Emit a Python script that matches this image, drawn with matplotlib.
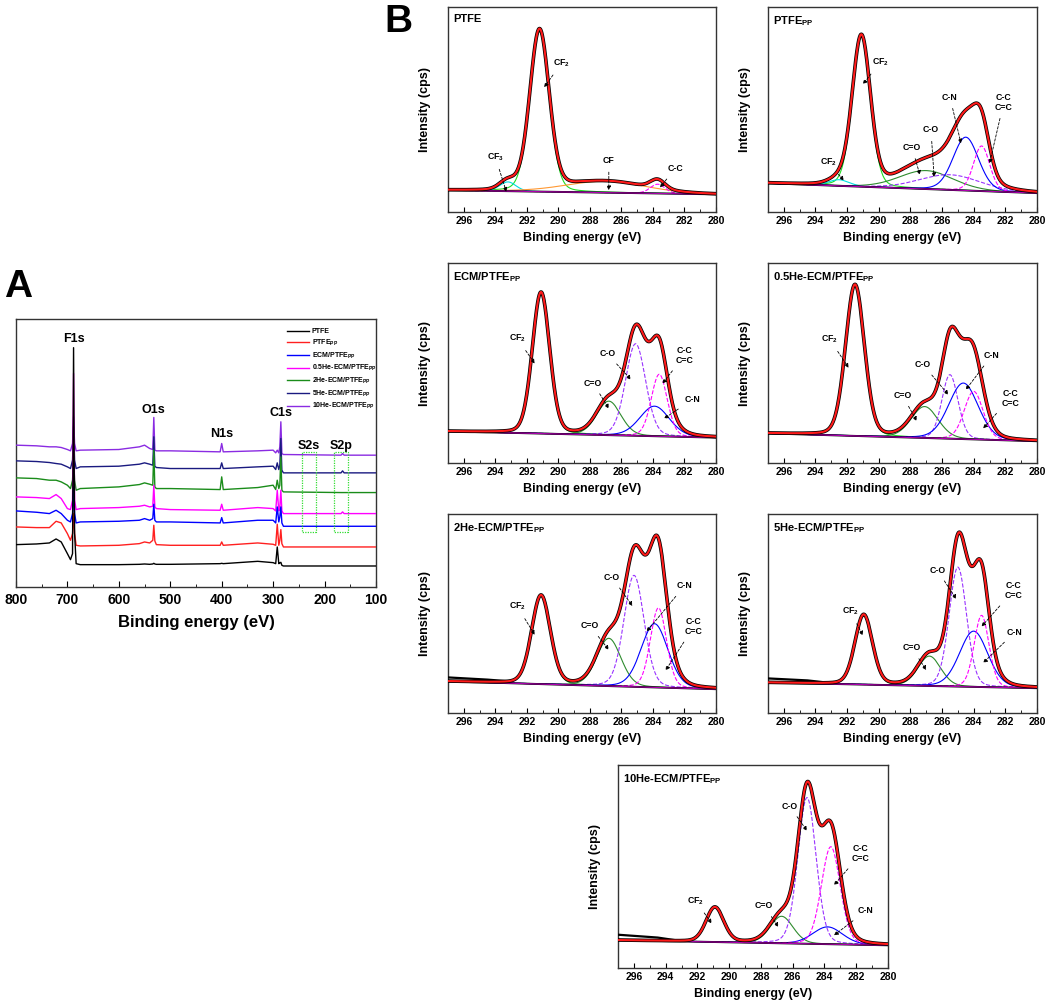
"""
XPS survey (A) and C1s high resolution fits (B) for PTFE / ECM samples
"""
import matplotlib
matplotlib.use('Agg')
import matplotlib.pyplot as plt
from matplotlib.patches import Rectangle
from matplotlib.ticker import MultipleLocator
import numpy as np

plt.rcParams['font.family'] = ['Liberation Sans', 'DejaVu Sans']
plt.rcParams['font.weight'] = 'bold'
plt.rcParams['axes.labelweight'] = 'bold'
plt.rcParams['mathtext.fontset'] = 'custom'
plt.rcParams['mathtext.rm'] = 'Liberation Sans:bold'
plt.rcParams['mathtext.it'] = 'Liberation Sans:bold'
plt.rcParams['mathtext.bf'] = 'Liberation Sans:bold'

# ---------------- panel A : survey spectra (a.u.) ----------------
survey_ev = [800, 760, 735, 722, 712, 700, 694, 690, 688, 686, 683, 675, 600, 560, 550,
             540, 534, 532, 530, 527, 500, 403, 400, 397, 330, 300, 295, 292, 289, 287,
             285, 283, 280, 168, 165, 162, 100]
survey_ptfe = [127, 129, 132, 144, 135, 100, 82, 100, 717, 160, 70, 67, 67, 68, 69,
               68, 69, 71, 69, 68, 68, 70, 71, 70, 77, 73, 70, 120, 70, 72,
               74, 65, 63, 63, 63, 63, 63]
survey_pp = [180, 178, 178, 197, 192, 160, 140, 160, 220, 160, 125, 123, 125, 130, 135,
             132, 140, 185, 138, 127, 125, 125, 135, 125, 132, 128, 125, 188, 125, 140,
             172, 130, 120, 120, 120, 120, 120]
survey_ecm = [228, 224, 220, 230, 220, 200, 195, 220, 300, 220, 192, 195, 197, 200, 205,
              200, 205, 248, 200, 195, 195, 192, 208, 192, 200, 200, 192, 240, 195, 210,
              240, 192, 182, 182, 182, 182, 182]
survey_05he = [270, 268, 265, 277, 265, 235, 232, 260, 640, 260, 232, 235, 238, 242, 245,
               240, 242, 305, 240, 235, 232, 230, 248, 230, 238, 235, 228, 290, 228, 240,
               290, 228, 220, 220, 225, 220, 220]
survey_2he = [327, 325, 320, 320, 315, 305, 295, 320, 390, 320, 290, 295, 300, 307, 312,
              308, 305, 410, 300, 295, 295, 292, 330, 292, 298, 305, 292, 320, 295, 305,
              390, 290, 285, 283, 283, 283, 283]
survey_5he = [378, 376, 373, 370, 368, 360, 355, 380, 480, 380, 355, 360, 362, 368, 372,
              368, 365, 450, 362, 358, 355, 355, 372, 355, 360, 362, 352, 372, 352, 365,
              445, 350, 342, 342, 348, 342, 342]
survey_10he = [425, 423, 420, 420, 418, 412, 408, 430, 510, 430, 408, 410, 412, 420, 425,
               415, 412, 508, 410, 408, 408, 405, 430, 405, 408, 410, 402, 410, 402, 420,
               495, 400, 397, 395, 400, 395, 395]
survey_labels = ['PTFE', r'PTFE$_{PP}$', r'ECM/PTFE$_{PP}$', r'0.5He-ECM/PTFE$_{PP}$',
                 r'2He-ECM/PTFE$_{PP}$', r'5He-ECM/PTFE$_{PP}$', r'10He-ECM/PTFE$_{PP}$']
survey_peaks = ['F1s', 'O1s', 'N1s', 'C1s', 'S2s', 'S2p']
survey_peak_ev = [688, 532, 400, 285, 230, 168]
survey_peak_y = [742, 530, 457, 522, 423, 423]
s_boxes_ev = [(244.4, 216.7), (181.7, 154.0)]
s_boxes_y = (165, 405)

# ---------------- panel B : C1s fits (center eV, height, FWHM) ----------------
ptfe_names = ['CF2', 'CF3', 'CF', 'C-C']
ptfe_center = [291.2, 293.2, 287.0, 283.7]
ptfe_height = [78, 4.5, 5.5, 4.5]
ptfe_fwhm = [1.45, 1.2, 6.0, 1.1]
ptfe_bg = [10.6, 8.6]

pp_names = ['CF2', 'CF3', 'C=O', 'C-O', 'C-N', 'C-C']
pp_center = [291.1, 292.5, 287.0, 285.5, 284.5, 283.5]
pp_height = [73, 3.0, 9.0, 7.4, 26, 22]
pp_fwhm = [1.35, 1.5, 4.0, 4.5, 1.9, 1.2]
pp_bg = [14.0, 9.2]

fit_names = ['CF2', 'C=O', 'C-O', 'C-N', 'C-C']
ecm_center = [291.1, 286.8, 285.1, 283.9, 283.6]
ecm_height = [70.5, 17, 46, 15, 31]
ecm_fwhm = [1.3, 1.8, 1.5, 2.2, 1.2]
ecm_bg = [15.8, 12.7]

he05_center = [291.5, 287.1, 285.5, 284.65, 284.0]
he05_height = [75.5, 15.7, 32, 28, 24]
he05_fwhm = [1.4, 2.0, 1.2, 2.2, 1.4]
he05_bg = [14.8, 10.9]

he2_center = [291.1, 286.8, 285.2, 283.9, 283.65]
he2_height = [44.4, 24, 56, 32, 40]
he2_fwhm = [1.4, 1.8, 1.5, 2.0, 1.2]
he2_bg = [15.9, 12.0]
he2_raw_left = [17.9, 16.8]

he5_center = [290.95, 286.8, 285.0, 284.0, 283.5]
he5_height = [35, 15, 60, 28, 36]
he5_fwhm = [1.3, 1.7, 1.3, 2.1, 1.1]
he5_bg = [15.3, 12.5]
he5_raw_left = [17.4, 16.4]

he10_center = [290.9, 286.7, 285.1, 283.8, 283.6]
he10_height = [17, 13.3, 72, 8.5, 48]
he10_fwhm = [1.3, 1.7, 1.35, 2.2, 1.4]
he10_bg = [13.7, 11.2]
he10_raw_left = [16.4, 15.0]

# line styles of fitted components
comp_style = {
    'CF2': dict(color='#22dd22', ls='-'),
    'CF3': dict(color='#00dede', ls='-'),
    'CF': dict(color='#ff9933', ls='-'),
    'C-C': dict(color='#ff00ff', ls='--'),
    'C=O': dict(color='#2e8b2e', ls='-'),
    'C-O': dict(color='#9933ff', ls='--'),
    'C-N': dict(color='#0000ff', ls='-'),
}

CC = 'C-C\nC=C'
CF2 = r'CF$_2$'
CF3 = r'CF$_3$'
# annotation layout: (text, text position, arrow tip)
notes_ptfe = [(CF2, (289.8, 72.6), (290.9, 60.8)), (CF3, (294.0, 26.9), (293.3, 9.8)),
              ('CF', (286.8, 25.0), (286.8, 10.6)), ('C-C', (282.6, 21.2), (283.55, 11.9))]
notes_pp = [(CF2, (289.9, 73.0), (291.0, 62.3)), (CF2, (293.2, 24.0), (292.2, 15.3)),
            ('C=O', (287.9, 31.5), (287.4, 18.1)), ('C-O', (286.7, 40.0), (286.5, 17.0)),
            ('C-N', (285.5, 56.0), (284.8, 33.4)), (CC, (282.1, 53.5), (283.0, 23.6))]
notes_ecm = [(CF2, (292.6, 62.2), (291.5, 49.7)), ('C=O', (287.8, 40.0), (286.8, 27.2)),
             ('C-O', (286.9, 54.7), (285.4, 41.7)), (CC, (282.0, 53.8), (283.4, 39.7)),
             ('C-N', (281.5, 31.7), (283.3, 22.2))]
notes_05 = [(CF2, (293.1, 61.8), (291.9, 47.6)), ('C=O', (288.5, 33.8), (287.6, 21.0)),
            ('C-O', (287.2, 49.2), (285.6, 34.1)), ('C-N', (282.85, 53.8), (284.5, 36.6)),
            (CC, (281.7, 32.4), (283.4, 17.3))]
notes_2 = [(CF2, (292.6, 53.5), (291.5, 39.3)), ('C=O', (288.0, 43.8), (286.8, 31.8)),
           ('C-O', (286.6, 68.2), (285.3, 53.8)), ('C-N', (282.0, 63.9), (284.4, 41.0)),
           (CC, (281.4, 43.5), (283.2, 21.4))]
notes_5 = [(CF2, (291.8, 51.0), (291.0, 39.0)), ('C=O', (287.9, 32.7), (287.0, 21.6)),
           ('C-O', (286.3, 71.8), (285.1, 57.3)), (CC, (281.5, 61.5), (283.5, 43.5)),
           ('C-N', (281.4, 40.7), (283.4, 25.2))]
notes_10 = [(CF2, (292.1, 33.0), (291.1, 21.9)), ('C=O', (287.8, 30.6), (286.9, 20.2)),
            ('C-O', (286.2, 79.8), (285.1, 67.6)), (CC, (281.7, 56.4), (283.4, 40.8)),
            ('C-N', (281.4, 28.1), (283.4, 16.1))]


def gl_peak(x, center, height, fwhm, mix=0.15):
    """Gaussian-Lorentzian line shape used for the XPS component fits"""
    d = (x - center) / fwhm
    return height * ((1 - mix) * np.exp(-4 * np.log(2) * d ** 2) + mix / (1 + 4 * d ** 2))


def draw_fit(ax, title, names, centers, heights, fwhms, bg, notes, raw_left=None):
    x = np.linspace(280, 297, 700)
    base = np.interp(x, [280, 297], [bg[1], bg[0]])
    total = base.copy()
    for name, c, h, w in zip(names, centers, heights, fwhms):
        comp = gl_peak(x, c, h, w)
        total += comp
        st = comp_style[name]
        ax.plot(x, base + comp, color=st['color'], ls=st['ls'], lw=0.8, zorder=2)
    ax.plot(x, base, color='black', lw=1.4, zorder=3)
    ax.plot(x, base, color='#b000b0', lw=0.8, zorder=3)
    ax.plot(x, total, color='black', lw=2.6, zorder=4)
    if raw_left is not None:
        x_end = 293.2
        y_end = np.interp(x_end, x, total)
        ax.plot([297, 294.5, x_end], [raw_left[0], raw_left[1], y_end],
                color='black', lw=1.6, zorder=4)
    ax.plot(x, total, color='#ff1a1a', lw=1.5, zorder=5)

    for text, txy, tip in notes:
        ax.annotate(text, xy=tip, xytext=txy, ha='center', va='center',
                    fontsize=6.3, fontweight='bold', linespacing=1.1, zorder=6,
                    arrowprops=dict(arrowstyle='-|>', ls=(0, (3, 2)), lw=0.6,
                                    color='black', mutation_scale=6,
                                    shrinkA=3, shrinkB=0))

    ax.set_xlim(297, 280)
    ax.set_ylim(0, 100)
    ax.xaxis.set_major_locator(MultipleLocator(2))
    ax.xaxis.set_minor_locator(MultipleLocator(1))
    ax.tick_params(axis='x', which='both', direction='in', labelsize=7.5, pad=3)
    ax.tick_params(axis='x', which='major', length=3.5)
    ax.tick_params(axis='x', which='minor', length=2)
    ax.set_yticks([])
    ax.set_xlabel('Binding energy (eV)', fontsize=9, labelpad=4)
    ax.set_ylabel('Intensity (cps)', fontsize=9, labelpad=12)
    for sp in ax.spines.values():
        sp.set_color('#333333')
        sp.set_linewidth(1.0)
    ax.text(0.02, 0.965, title, transform=ax.transAxes, va='top', ha='left',
            fontsize=8, fontweight='bold')


fig = plt.figure(figsize=(10.5, 10.05), dpi=100)

# ---------------- panel A ----------------
axA = fig.add_axes([0.0152, 0.4159, 0.3429, 0.2667])
survey_colors = ['black', '#ff2020', '#0000ff', '#ff00ff', '#1a8c1a', '#1a1a80', '#8a2be2']
survey_series = [survey_ptfe, survey_pp, survey_ecm, survey_05he, survey_2he,
                 survey_5he, survey_10he]
for i, (ys, col, lab) in enumerate(zip(survey_series, survey_colors, survey_labels)):
    axA.plot(survey_ev, ys, color=col, lw=1.0, label=lab, zorder=10 - i)
for name, ev, y in zip(survey_peaks, survey_peak_ev, survey_peak_y):
    axA.text(ev, y, name, ha='center', va='center', fontsize=9, fontweight='bold')
for hi, lo in s_boxes_ev:
    axA.add_patch(Rectangle((lo, s_boxes_y[0]), hi - lo, s_boxes_y[1] - s_boxes_y[0],
                            fill=False, ec='#33dd33', ls=(0, (1, 1)), lw=0.9, zorder=12))
axA.set_xlim(800, 100)
axA.set_ylim(0, 803)
axA.xaxis.set_major_locator(MultipleLocator(100))
axA.xaxis.set_minor_locator(MultipleLocator(50))
axA.tick_params(axis='x', which='both', direction='in', labelsize=10, pad=4)
axA.tick_params(axis='x', which='major', length=4)
axA.tick_params(axis='x', which='minor', length=2.5)
axA.set_yticks([])
axA.set_xlabel('Binding energy (eV)', fontsize=12, labelpad=6)
for sp in axA.spines.values():
    sp.set_color('#333333')
    sp.set_linewidth(1.0)
axA.legend(loc='upper left', bbox_to_anchor=(0.745, 0.975), frameon=False,
           fontsize=5, handlelength=3.2, handletextpad=0.4, labelspacing=0.35,
           borderaxespad=0)
fig.text(0.004, 1 - 305 / 1005, 'A', fontsize=28, fontweight='bold', va='bottom')

# ---------------- panel B ----------------
fig.text(0.366, 1 - 40 / 1005, 'B', fontsize=28, fontweight='bold', va='bottom')
ax1 = fig.add_axes([0.4267, 0.7891, 0.2552, 0.2040])
draw_fit(ax1, 'PTFE', ptfe_names, ptfe_center, ptfe_height, ptfe_fwhm, ptfe_bg, notes_ptfe)
ax2 = fig.add_axes([0.7314, 0.7891, 0.2562, 0.2040])
draw_fit(ax2, r'PTFE$_{PP}$', pp_names, pp_center, pp_height, pp_fwhm, pp_bg, notes_pp)
ax3 = fig.add_axes([0.4267, 0.5393, 0.2552, 0.1990])
draw_fit(ax3, r'ECM/PTFE$_{PP}$', fit_names, ecm_center, ecm_height, ecm_fwhm, ecm_bg,
         notes_ecm)
ax4 = fig.add_axes([0.7314, 0.5393, 0.2562, 0.1990])
draw_fit(ax4, r'0.5He-ECM/PTFE$_{PP}$', fit_names, he05_center, he05_height, he05_fwhm,
         he05_bg, notes_05)
ax5 = fig.add_axes([0.4267, 0.2905, 0.2552, 0.1980])
draw_fit(ax5, r'2He-ECM/PTFE$_{PP}$', fit_names, he2_center, he2_height, he2_fwhm,
         he2_bg, notes_2, he2_raw_left)
ax6 = fig.add_axes([0.7314, 0.2905, 0.2562, 0.1980])
draw_fit(ax6, r'5He-ECM/PTFE$_{PP}$', fit_names, he5_center, he5_height, he5_fwhm,
         he5_bg, notes_5, he5_raw_left)
ax7 = fig.add_axes([0.5886, 0.0368, 0.2571, 0.2020])
draw_fit(ax7, r'10He-ECM/PTFE$_{PP}$', fit_names, he10_center, he10_height, he10_fwhm,
         he10_bg, notes_10, he10_raw_left)

fig.savefig('out.png', dpi=100, facecolor='white')
plt.close(fig)
